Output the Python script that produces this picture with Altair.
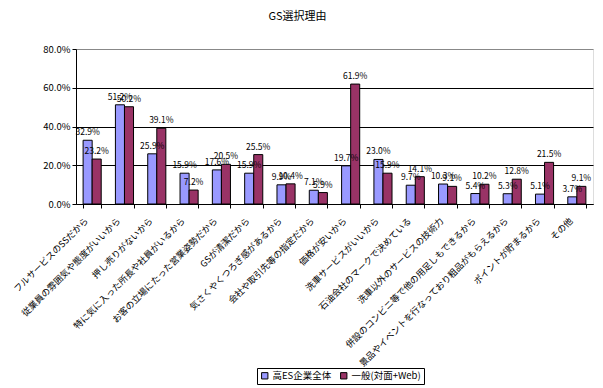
import altair as alt
import pandas as pd

categories = [
    "フルサービスのSSだから",
    "従業員の雰囲気や態度がいいから",
    "押し売りがないから",
    "特に気に入った所長や社員がいるから",
    "お客の立場にたった営業姿勢だから",
    "GSが清潔だから",
    "気さくやくつろぎ感があるから",
    "会社や取引先等の指定だから",
    "価格が安いから",
    "洗車サービスがいいから",
    "石油会社のマークで決めている",
    "洗車以外のサービスの技術力",
    "併設のコンビニ等で他の用足しもできるから",
    "景品やイベントを行なっており粗品がもらえるから",
    "ポイントが貯まるから",
    "その他",
]
series = ["高ES企業全体", "一般(対面+Web)"]
high_es = [32.9, 51.2, 25.9, 15.9, 17.6, 15.9, 9.9, 7.1, 19.7, 23.0, 9.7, 10.3, 5.4, 5.3, 5.1, 3.7]
general = [23.2, 50.2, 39.1, 7.2, 20.5, 25.5, 10.4, 5.9, 61.9, 15.9, 14.1, 9.1, 10.2, 12.8, 21.5, 9.1]
colors = ["#9999FF", "#993366"]

rows = []
for i, c in enumerate(categories):
    rows.append({"cat": c, "series": series[0], "value": high_es[i]})
    rows.append({"cat": c, "series": series[1], "value": general[i]})
df = pd.DataFrame(rows)

FONT = "MS PGothic, Noto Sans CJK JP"

base = alt.Chart(df).transform_calculate(
    lbl="format(datum.value, '.1f') + '%'"
).encode(
    x=alt.X(
        "cat:N",
        sort=categories,
        scale=alt.Scale(paddingInner=0.44, paddingOuter=0.22),
        axis=alt.Axis(
            title=None, labelAngle=-45, labelAlign="right", labelBaseline="middle",
            labelFontSize=9, labelPadding=11, labelOffset=-6, tickBand="extent", tickSize=4,
            domainColor="black", tickColor="black", labelColor="black",
            labelLimit=400, labelFont=FONT, labelOverlap=False,
        ),
    ),
    xOffset=alt.XOffset("series:N", sort=series,
                        scale=alt.Scale(paddingInner=0, paddingOuter=0)),
    y=alt.Y(
        "value:Q",
        scale=alt.Scale(domain=[0, 80]),
        axis=alt.Axis(
            title=None, values=[0, 20, 40, 60, 80],
            labelExpr="format(datum.value, '.1f') + '%'",
            grid=True,
            gridColor={"condition": {"test": "datum.value == 80", "value": "#888888"}, "value": "black"},
            domainColor="black", tickColor="black", tickSize=4, labelPadding=2,
            labelFontSize=9.5, labelColor="black", labelFont=FONT,
        ),
    ),
)

bars = base.mark_bar(stroke="black", strokeWidth=1).encode(
    color=alt.Color(
        "series:N", sort=series,
        scale=alt.Scale(domain=series, range=colors),
        legend=alt.Legend(
            title=None, orient="none", legendX=181, legendY=319,
            direction="horizontal", symbolType="square", symbolSize=40,
            symbolStrokeColor="black", symbolStrokeWidth=1,
            strokeColor="black", padding=3, labelFontSize=9.5,
            labelFont=FONT, labelColor="black", columnPadding=6,
            labelOffset=3,
        ),
    )
)

text = base.mark_text(dy=-3, baseline="bottom", fontSize=8.5, font=FONT, color="black").encode(
    text="lbl:N"
)

chart = alt.layer(bars, text).properties(
    width=517, height=155,
    title=alt.TitleParams("GS選択理由", fontSize=11, fontWeight="normal", font=FONT,
                          dx=-37, offset=22, color="black"),
    padding={"left": 68, "top": 41, "right": 2, "bottom": 181},
    autosize="none",
).configure_view(stroke="#888888").configure(background="white")

chart.save("out.html", embed_options={"renderer": "svg", "actions": False})
